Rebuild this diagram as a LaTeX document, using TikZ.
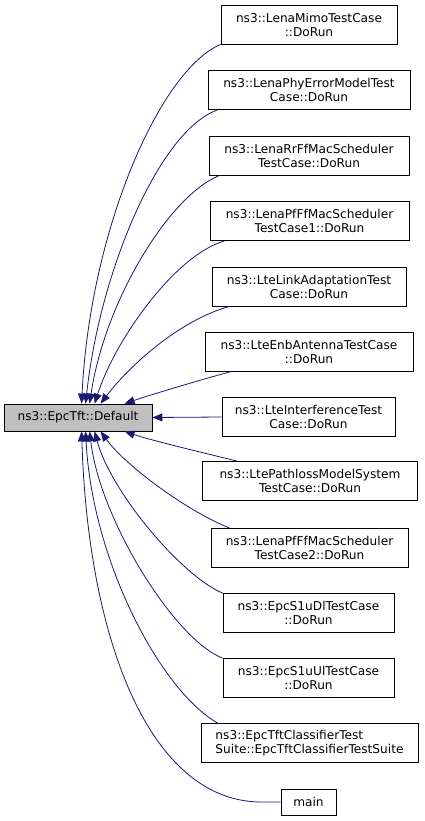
\documentclass[tikz,border=0pt]{standalone}
\usepackage{fontspec}
\setmainfont{DejaVu Sans}
\usetikzlibrary{arrows.meta,calc}
\definecolor{edgeblue}{HTML}{191970}
\definecolor{srcgray}{HTML}{BFBFBF}
\begin{document}
\begin{tikzpicture}[x=1bp,y=-1bp,
 box/.style={draw=black,fill=white,line width=0.8bp,align=center,inner sep=0pt,minimum height=39bp,font=\fontsize{12.2}{14}\selectfont},
 edge/.style={draw=edgeblue,line width=0.8bp,-{Triangle[length=10bp,width=8bp]}},
]
\useasboundingbox[fill=white] (0,0) rectangle (424,821);
\node[box,fill=srcgray,minimum width=148bp,minimum height=27bp] (src) at (78,417.5) {ns3::EpcTft::Default};
\node[box,minimum width=176bp] (mimo) at (309,24.5) {ns3::LenaMimoTestCase\\::DoRun};
\node[box,minimum width=202bp] (phy) at (309,90) {ns3::LenaPhyErrorModelTest\\Case::DoRun};
\node[box,minimum width=200bp] (rrff) at (309,155.5) {ns3::LenaRrFfMacScheduler\\TestCase::DoRun};
\node[box,minimum width=199bp] (pfa) at (309.5,221) {ns3::LenaPfFfMacScheduler\\TestCase1::DoRun};
\node[box,minimum width=194bp] (link) at (309,286.5) {ns3::LteLinkAdaptationTest\\Case::DoRun};
\node[box,minimum width=208bp] (enb) at (309,351.5) {ns3::LteEnbAntennaTestCase\\::DoRun};
\node[box,minimum width=173bp] (interf) at (308.5,417) {ns3::LteInterferenceTest\\Case::DoRun};
\node[box,minimum width=215bp] (path) at (310,481) {ns3::LtePathlossModelSystem\\TestCase::DoRun};
\node[box,minimum width=197bp] (pfb) at (309.5,548) {ns3::LenaPfFfMacScheduler\\TestCase2::DoRun};
\node[box,minimum width=171bp] (dl) at (308.5,613) {ns3::EpcS1uDlTestCase\\::DoRun};
\node[box,minimum width=171bp] (ul) at (308.5,678) {ns3::EpcS1uUlTestCase\\::DoRun};
\node[box,minimum width=217bp,align=left] (tft) at (309.5,743) {ns3::EpcTftClassifierTest\\Suite::EpcTftClassifierTestSuite};
\node[box,minimum width=55bp,minimum height=26bp] (main) at (308.5,802) {main};
% edges into the top of the source node
\draw[edge] (mimo.south west) .. controls (160,70) and (90,230) .. ($(src.north west)+(78,0)$);
\draw[edge] ($(phy.south west)+(10,0)$) .. controls (160,130) and (100,270) .. ($(src.north west)+(82,0)$);
\draw[edge] ($(rrff.south west)+(11,0)$) .. controls (170,195) and (105,300) .. ($(src.north west)+(86,0)$);
\draw[edge] ($(pfa.south west)+(15,0)$) .. controls (175,255) and (115,340) .. ($(src.north west)+(91,0)$);
\draw[edge] ($(link.south west)+(18,0)$) .. controls (180,320) and (130,365) .. ($(src.north west)+(97,0)$);
\draw[edge] ($(enb.south west)+(27,0)$) .. controls (200,380) and (150,395) .. ($(src.north west)+(121,0)$);
% horizontal edge
\draw[edge] (interf.west) -- (src.east);
% edges into the bottom of the source node
\draw[edge] ($(path.north west)+(35,0)$) .. controls (200,452) and (150,440) .. ($(src.south west)+(121,0)$);
\draw[edge] ($(pfb.north west)+(19,0)$) .. controls (185,510) and (125,465) .. ($(src.south west)+(97,0)$);
\draw[edge] (dl.north west) .. controls (180,575) and (110,490) .. ($(src.south west)+(91,0)$);
\draw[edge] (ul.north west) .. controls (175,640) and (100,520) .. ($(src.south west)+(86,0)$);
\draw[edge] ($(tft.north west)+(17,0)$) .. controls (160,690) and (92,560) .. ($(src.south west)+(82,0)$);
\draw[edge] (main.west) -- ++(-18,0) .. controls (150,803) and (88,640) .. ($(src.south west)+(78,0)$);
\end{tikzpicture}
\end{document}
